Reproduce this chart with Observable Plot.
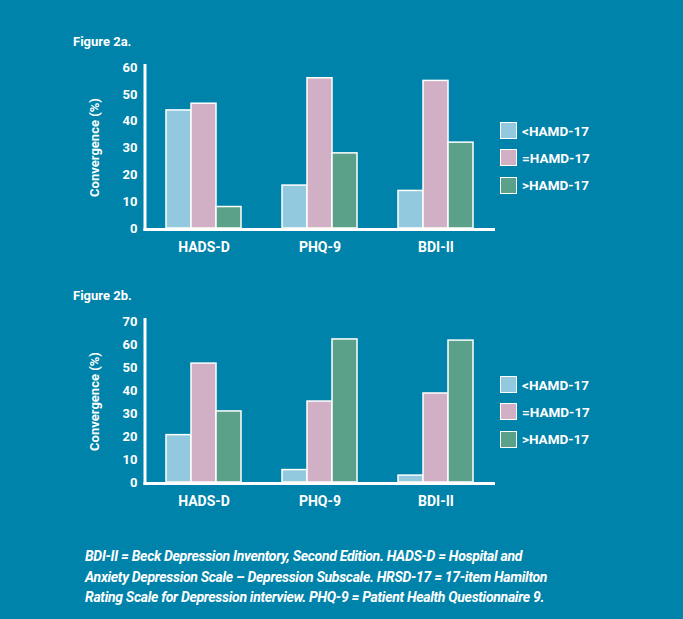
<!DOCTYPE html>
<html>
<head>
<meta charset="utf-8">
<script src="https://cdn.jsdelivr.net/npm/d3@7"></script>
<script src="https://cdn.jsdelivr.net/npm/@observablehq/plot@0.6"></script>
<style>
  body { margin: 0; background: #0083aa; }
  #root { position: relative; width: 683px; height: 619px; background: #0083aa; font-family: Roboto, "Open Sans", sans-serif; color: #fff; overflow: hidden; }
  .title { position: absolute; left: 73px; font-size: 13px; font-weight: bold; line-height: 16px; }
  .chart { position: absolute; left: 0; }
  .legend { position: absolute; left: 500px; }
  .item { display: flex; align-items: center; height: 17px; margin-bottom: 10.3px; }
  .sw { width: 17px; height: 17px; box-sizing: border-box; border: 1.5px solid #fff; margin-right: 5px; }
  .lab { font-size: 13.5px; font-weight: bold; }
  .note { position: absolute; left: 85px; top: 546px; font-size: 14px; font-weight: bold; font-style: italic; line-height: 20.5px; letter-spacing: -0.3px; white-space: nowrap; }
</style>
</head>
<body>
<div id="root"></div>
<script>
const categories = ["HADS-D", "PHQ-9", "BDI-II"];
const series = ["<HAMD-17", "=HAMD-17", ">HAMD-17"];
const colors = ["#93c9de", "#d1afc4", "#5ba18a"];

const fig2aTitle = "Figure 2a.";
const fig2aTicks = [0, 10, 20, 30, 40, 50, 60];
const fig2aLess = [44, 16, 14];
const fig2aEqual = [46.5, 56, 55];
const fig2aGreater = [8, 28, 32];

const fig2bTitle = "Figure 2b.";
const fig2bTicks = [0, 10, 20, 30, 40, 50, 60, 70];
const fig2bLess = [20.6, 5.4, 3];
const fig2bEqual = [51.7, 35.2, 38.7];
const fig2bGreater = [30.9, 62.2, 61.7];

const yLabel = "Convergence (%)";
const footnote = [
  "BDI-II = Beck Depression Inventory, Second Edition. HADS-D = Hospital and",
  "Anxiety Depression Scale \u2013 Depression Subscale. HRSD-17 = 17-item Hamilton",
  "Rating Scale for Depression interview. PHQ-9 = Patient Health Questionnaire 9."
];

const root = document.getElementById("root");

const W = 683, ML = 145, MR = 188;
const PI = 0.336, PO = 0.172;
// gap between the frame's left edge and the first facet band (from the band scale definition)
const step = (W - ML - MR) / (categories.length - PI + 2 * PO);
const outerGap = step * PO;

function figure(title, ticks, less, equal, greater, offset) {
  const rows = [];
  categories.forEach((c, i) => {
    rows.push({cat: c, series: series[0], value: less[i]});
    rows.push({cat: c, series: series[1], value: equal[i]});
    rows.push({cat: c, series: series[2], value: greater[i]});
  });

  const t = document.createElement("div");
  t.className = "title";
  t.style.top = (33.5 + offset) + "px";
  t.textContent = title;
  root.appendChild(t);

  const plot = Plot.plot({
    width: W,
    height: 205,
    marginTop: 12,
    marginBottom: 32,
    marginLeft: ML,
    marginRight: MR,
    style: {background: "transparent", color: "#fff", fontFamily: "Roboto, sans-serif", fontSize: "13px", fontWeight: "bold", overflow: "visible"},
    fx: {domain: categories, paddingInner: PI, paddingOuter: PO, label: null},
    x: {domain: series, padding: 0, axis: null},
    y: {domain: [ticks[0], ticks[ticks.length - 1]], label: null},
    color: {domain: series, range: colors},
    marks: [
      Plot.barY(rows, {fx: "cat", x: "series", y: "value", fill: "series", stroke: "#fff", strokeWidth: 1.5}),
      Plot.axisFx({anchor: "bottom", tickSize: 0, tickPadding: 14, fontSize: 14, label: null}),
      Plot.axisY({ticks: ticks, tickSize: 0, tickPadding: 8 + outerGap, label: null})
    ]
  });
  plot.classList.add("chart");
  plot.style.top = (55 + offset) + "px";
  root.appendChild(plot);

  // axis lines and y label from the scales
  const fx = plot.scale("fx");
  const y = plot.scale("y");
  const svg = d3.select(plot);
  const x0 = fx.range[0], x1 = fx.range[1];
  const yb = y.apply(0), yt = y.apply(ticks[ticks.length - 1]);
  svg.append("line").attr("x1", x0).attr("x2", x0).attr("y1", yt - 3).attr("y2", yb + 3)
    .attr("stroke", "#fff").attr("stroke-width", 3);
  svg.append("line").attr("x1", x0 - 1.5).attr("x2", x1).attr("y1", yb + 1.5).attr("y2", yb + 1.5)
    .attr("stroke", "#fff").attr("stroke-width", 3);
  svg.append("text").text(yLabel)
    .attr("transform", `translate(${x0 - 49},${(yb + yt) / 2}) rotate(-90)`)
    .attr("text-anchor", "middle").attr("dominant-baseline", "middle")
    .attr("fill", "#fff").attr("font-size", 13).attr("font-weight", "bold");

  const lg = document.createElement("div");
  lg.className = "legend";
  lg.style.top = (122 + offset) + "px";
  series.forEach((s, i) => {
    const it = document.createElement("div");
    it.className = "item";
    const sw = document.createElement("div");
    sw.className = "sw";
    sw.style.background = colors[i];
    const lb = document.createElement("span");
    lb.className = "lab";
    lb.textContent = s;
    it.appendChild(sw); it.appendChild(lb);
    lg.appendChild(it);
  });
  root.appendChild(lg);
}

figure(fig2aTitle, fig2aTicks, fig2aLess, fig2aEqual, fig2aGreater, 0);
figure(fig2bTitle, fig2bTicks, fig2bLess, fig2bEqual, fig2bGreater, 254);

const note = document.createElement("div");
note.className = "note";
note.innerHTML = footnote.map(l => l.replace(/&/g, "&amp;").replace(/</g, "&lt;")).join("<br>");
root.appendChild(note);
</script>
</body>
</html>
